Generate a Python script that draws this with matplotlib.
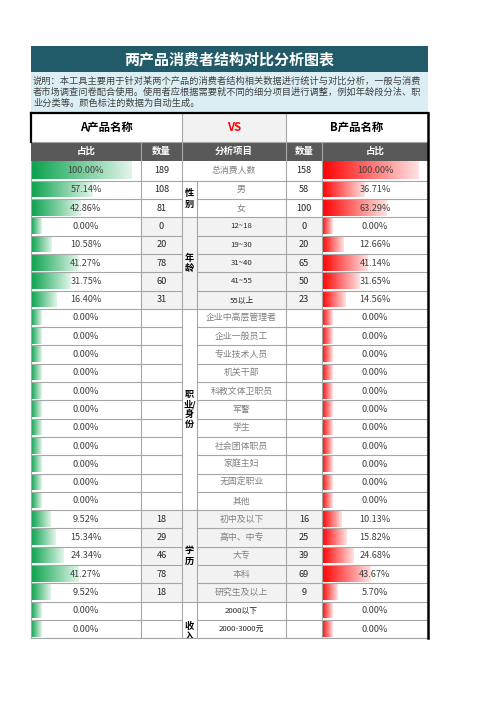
import numpy as np
import matplotlib
matplotlib.use("Agg")
import matplotlib.pyplot as plt
from matplotlib.patches import Rectangle
from matplotlib.colors import LinearSegmentedColormap

plt.rcParams["font.family"] = ["Noto Sans CJK SC", "DejaVu Sans"]

# ---- data ----
title = "两产品消费者结构对比分析图表"
desc_lines = [
    "说明：本工具主要用于针对某两个产品的消费者结构相关数据进行统计与对比分析，一般与消费",
    "者市场调查问卷配合使用。使用者应根据需要就不同的细分项目进行调整，例如年龄段分法、职",
    "业分类等。颜色标注的数据为自动生成。",
]
name_a = "A产品名称"
name_b = "B产品名称"
col_headers = ["占比", "数量", "分析项目", "数量", "占比"]

items = ["总消费人数", "男", "女",
         "12~18", "19~30", "31~40", "41~55", "55以上",
         "企业中高层管理者", "企业一般员工", "专业技术人员", "机关干部", "科教文体卫职员",
         "军警", "学生", "社会团体职员", "家庭主妇", "无固定职业", "其他",
         "初中及以下", "高中、中专", "大专", "本科", "研究生及以上",
         "2000以下", "2000-3000元"]
count_a = [189, 108, 81, 0, 20, 78, 60, 31] + [None] * 11 + [18, 29, 46, 78, 18] + [None, None]
count_b = [158, 58, 100, 0, 20, 65, 50, 23] + [None] * 11 + [16, 25, 39, 69, 9] + [None, None]
pct_a = [100.00, 57.14, 42.86, 0.00, 10.58, 41.27, 31.75, 16.40] + [0.00] * 11 + \
        [9.52, 15.34, 24.34, 41.27, 9.52] + [0.00, 0.00]
pct_b = [100.00, 36.71, 63.29, 0.00, 12.66, 41.14, 31.65, 14.56] + [0.00] * 11 + \
        [10.13, 15.82, 24.68, 43.67, 5.70] + [0.00, 0.00]

# (label lines, rows in group, rows of merged label cell, shaded)
# the income cell runs on past the cut-off bottom of the sheet
groups = [
    ([], 1, 1, False),
    (["性", "别"], 2, 2, False),
    (["年", "龄"], 5, 5, True),
    (["职", "业/", "身", "份"], 11, 11, False),
    (["学", "历"], 5, 5, True),
    (["收", "入"], 2, 3.3, False),
]

# ---- layout (pixels) ----
W, H = 496, 702
X = [31, 141, 182, 197, 286, 322, 428]   # column edges
TITLE_Y = (46, 72)
DESC_Y = (72, 112.5)
HEAD_Y = (112.5, 142)
COLH_Y = (142, 160.5)
ROW0 = (160.5, 180.7)
ROWH = 18.3
GRID = "#a6a6a6"
SHADE = "#f2f2f2"

fig = plt.figure(figsize=(W / 100, H / 100), dpi=100)
ax = fig.add_axes([0, 0, 1, 1])
ax.set_xlim(0, W)
ax.set_ylim(H, 0)
ax.axis("off")

green = LinearSegmentedColormap.from_list("g", ["#08a24c", "#e3f5ea"])
red = LinearSegmentedColormap.from_list("r", ["#ff0000", "#ffe3e3"])
grad = np.linspace(0, 1, 256).reshape(1, -1)


def rect(x0, y0, x1, y1, color, z=1):
    ax.add_patch(Rectangle((x0, y0), x1 - x0, y1 - y0, facecolor=color, edgecolor="none", zorder=z))


# title + description
rect(X[0], TITLE_Y[0], X[-1], TITLE_Y[1], "#215a69")
ax.text((X[0] + X[-1]) / 2, sum(TITLE_Y) / 2, title, color="white", fontsize=10.8,
        fontweight="bold", ha="center", va="center")
rect(X[0], DESC_Y[0], X[-1], DESC_Y[1], "#dbeef3")
for i, line in enumerate(desc_lines):
    ax.text(X[0] + 2, 81.7 + i * 10.8, line, color="#404040", fontsize=6.65, ha="left", va="center")

# header row
rect(X[2], HEAD_Y[0], X[4], HEAD_Y[1], SHADE)
hy = sum(HEAD_Y) / 2
ax.text((X[0] + X[2]) / 2, hy, name_a, fontsize=8.2, fontweight="bold", ha="center", va="center")
ax.text((X[2] + X[4]) / 2, hy, "VS", fontsize=8.2, fontweight="bold", color="#ff0000", ha="center", va="center")
ax.text((X[4] + X[-1]) / 2, hy, name_b, fontsize=8.2, fontweight="bold", ha="center", va="center")

# column header row
rect(X[0], COLH_Y[0], X[-1], COLH_Y[1], "#595959")
ch_spans = [(X[0], X[1]), (X[1], X[2]), (X[2], X[4]), (X[4], X[5]), (X[5], X[6])]
for (a, b), lab in zip(ch_spans, col_headers):
    ax.text((a + b) / 2, sum(COLH_Y) / 2, lab, color="white", fontsize=6.8, fontweight="bold",
            ha="center", va="center")
for xv in X[1:3] + X[4:6]:
    ax.plot([xv, xv], COLH_Y, color=GRID, lw=0.8, zorder=3)

# row bounds
tops = [ROW0[0]] + [ROW0[1] + k * ROWH for k in range(len(items) - 1)]
bots = [ROW0[1]] + [ROW0[1] + (k + 1) * ROWH for k in range(len(items) - 1)]

# group shading + labels
r = 0
for lines, n, span, shaded in groups:
    y0, y1 = tops[r], bots[r + n - 1]
    if shaded:
        rect(X[1], y0, X[5], y1, SHADE)
    if lines:
        yc = tops[r] + (ROWH * span) / 2
        for j, ch in enumerate(lines):
            ax.text((X[2] + X[3]) / 2, yc + (j - (len(lines) - 1) / 2) * 10.2, ch, fontsize=6.6,
                    fontweight="bold", ha="center", va="center", zorder=4)
        ax.plot([X[3], X[3]], [y0, y1], color=GRID, lw=0.8, zorder=3)
        for k in range(r, r + n - 1):
            ax.plot([X[3], X[6]], [bots[k], bots[k]], color=GRID, lw=0.8, zorder=3)
            ax.plot([X[0], X[2]], [bots[k], bots[k]], color=GRID, lw=0.8, zorder=3)
    ax.plot([X[0], X[6]], [y1, y1], color=GRID, lw=0.8, zorder=3)
    r += n

# cells
for i, item in enumerate(items):
    y0, y1 = tops[i], bots[i]
    yc = (y0 + y1) / 2
    for (c0, c1), v, cmap in [((X[0], X[1]), pct_a[i], green), ((X[5], X[6]), pct_b[i], red)]:
        L = (c1 - c0) * (0.1 + 0.81 * v / 100)
        ax.imshow(grad, cmap=cmap, extent=[c0, c0 + L, y1 - 1.6, y0 + 1.0], aspect="auto",
                  interpolation="bilinear", zorder=2)
        ax.text((c0 + c1) / 2, yc, f"{v:.2f}%", fontsize=6.6, color="#404040",
                ha="center", va="center", zorder=4)
    for (c0, c1), cnt in [((X[1], X[2]), count_a[i]), ((X[4], X[5]), count_b[i])]:
        if cnt is not None:
            ax.text((c0 + c1) / 2, yc, str(cnt), fontsize=6.6, color="#262626",
                    ha="center", va="center", zorder=4)
    ix0 = X[2] if i == 0 else X[3]
    small = item[0].isdigit()
    ax.text((ix0 + X[4]) / 2, yc, item, fontsize=5.6 if small else 6.4,
            color="#262626" if small else "#808080", ha="center", va="center", zorder=4)

# vertical grid lines in data area
yb = bots[-1]
for xv in [X[1], X[2], X[4], X[5]]:
    ax.plot([xv, xv], [ROW0[0], yb], color=GRID, lw=0.8, zorder=3)
ax.plot([X[2], X[2]], HEAD_Y, color=GRID, lw=0.8, zorder=3)
ax.plot([X[4], X[4]], HEAD_Y, color=GRID, lw=0.8, zorder=3)
ax.plot([X[0], X[6]], [HEAD_Y[1], HEAD_Y[1]], color=GRID, lw=0.8, zorder=3)

# clip table at bottom
rect(0, yb + 0.4, W, H, "white", z=5)
ax.plot([X[0], X[6]], [yb, yb], color=GRID, lw=0.8, zorder=6)

# thick outer border
ax.plot([X[0], X[6]], [HEAD_Y[0], HEAD_Y[0]], color="black", lw=1.6, zorder=7)
ax.plot([X[0], X[0]], HEAD_Y, color="black", lw=1.6, zorder=7)
ax.plot([X[6], X[6]], [HEAD_Y[0], yb], color="black", lw=1.8, zorder=7)
ax.plot([X[0], X[0]], [ROW0[0], yb], color=GRID, lw=0.8, zorder=3)

fig.savefig("out.png", dpi=100)
